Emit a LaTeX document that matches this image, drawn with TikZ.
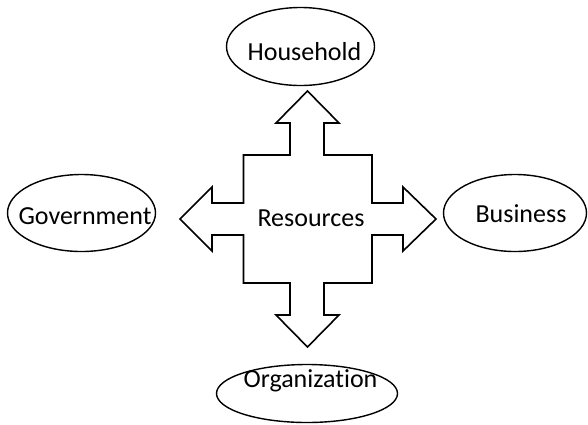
\documentclass[tikz,border=0pt]{standalone}
\usepackage{fontspec}
\setmainfont{Carlito}[Ligatures=NoCommon]
\usetikzlibrary{shapes.geometric}
\begin{document}
\begin{tikzpicture}[x=1pt,y=-1pt,
  ell/.style={draw=black, line width=1.4pt, ellipse, inner sep=0pt},
  lbl/.style={font=\fontsize{26}{30}\selectfont, anchor=base, inner sep=0pt},
  crossline/.style={draw=black, line width=1.6pt, line join=miter, fill=white}]
\useasboundingbox (0,0) rectangle (588,424);
% big four-way arrow
\draw[crossline] (290,155) -- (290,123) -- (276,123) -- (307.5,91) -- (339,123) -- (324,123) -- (324,155)
  -- (372,155) -- (372,203) -- (403,203) -- (403,187) -- (436,219) -- (403,251) -- (403,235) -- (372,235)
  -- (372,283) -- (324,283) -- (324,315) -- (339,315) -- (307.5,347) -- (276,315) -- (290,315) -- (290,283)
  -- (243.5,283) -- (243.5,235) -- (212,235) -- (212,251) -- (180,219) -- (212,187) -- (212,203) -- (243.5,203)
  -- (243.5,155) -- cycle;
\node[lbl] (res) at (311,226) {Resources};
% ellipses
\node[ell, minimum width=148pt, minimum height=78pt] (hh) at (300.5,46.5) {};
\node[ell, minimum width=148pt, minimum height=77pt] (gov) at (81.5,213) {};
\node[ell, minimum width=143pt, minimum height=77pt] (bus) at (515,213) {};
\node[ell, minimum width=181pt, minimum height=58pt] (org) at (307,393.5) {};
% texts
\node[lbl] (hhT) at (304.5,60) {Household};
\node[lbl] (govT) at (85,224) {Government};
\node[lbl] (busT) at (521,222.7) {Business};
\node[lbl] (orgT) at (310.5,387.7) {Organization};
\end{tikzpicture}
\end{document}
